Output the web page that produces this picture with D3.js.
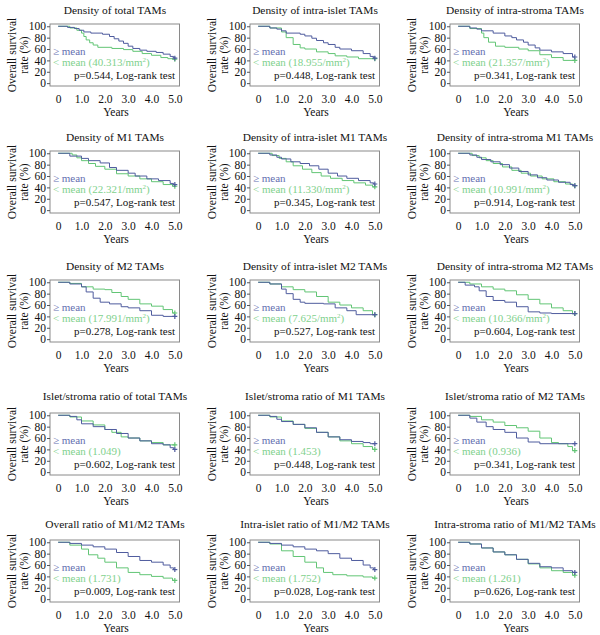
<!DOCTYPE html>
<html><head><meta charset="utf-8">
<script src="https://cdn.jsdelivr.net/npm/d3@7/dist/d3.min.js"></script>
<style>body{margin:0;background:#fff}svg{display:block}text{font-family:"Liberation Serif","Times New Roman",serif}</style>
</head><body>
<svg id="c" width="600" height="635"></svg>
<script>
const titles = [
 "Density of total TAMs","Density of intra-islet TAMs","Density of intra-stroma TAMs",
 "Density of M1 TAMs","Density of intra-islet M1 TAMs","Density of intra-stroma M1 TAMs",
 "Density of M2 TAMs","Density of intra-islet M2 TAMs","Density of intra-stroma M2 TAMs",
 "Islet/stroma ratio of total TAMs","Islet/stroma ratio of M1 TAMs","Islet/stroma ratio of M2 TAMs",
 "Overall ratio of M1/M2 TAMs","Intra-islet ratio of M1/M2 TAMs","Intra-stroma ratio of M1/M2 TAMs"];
const meanValues = ["40.313","18.955","21.357","22.321","11.330","10.991","17.991","7.625","10.366","1.049","1.453","0.936","1.731","1.752","1.261"];
const meanUnits = [1,1,1,1,1,1,1,1,1,0,0,0,0,0,0];
const pValues = ["0.544","0.448","0.341","0.547","0.345","0.914","0.278","0.527","0.604","0.602","0.448","0.341","0.009","0.028","0.626"];
const xTicks = [0,1,2,3,4,5];
const xTickLabels = ["0","1.0","2.0","3.0","4.0","5.0"];
const yTicks = [0,20,40,60,80,100];

// [time (years), survival (%)] step points, >= mean group
const highCurves = [
 [[0,100],[0.4,98],[0.7,96],[0.9,93],[1.1,90],[1.4,88],[1.9,86],[2.2,82],[2.4,78],[2.6,74],[2.8,70],[3.0,65],[3.2,61],[3.5,58],[3.8,56],[4.2,54],[4.5,51],[4.8,47],[4.95,44]],
 [[0,100],[0.5,97],[0.8,95],[1.0,92],[1.2,88],[1.8,86],[2.0,83],[2.3,79],[2.5,75],[2.8,71],[3.0,68],[3.3,63],[3.5,60],[4.0,57],[4.5,52],[4.8,47],[4.95,44]],
 [[0,100],[0.5,97],[0.8,95],[1.0,92],[1.5,88],[2.0,83],[2.3,80],[2.5,76],[2.8,72],[3.0,67],[3.3,62],[3.5,58],[4.0,55],[4.5,52],[4.9,46]],
 [[0,100],[0.5,95],[1.0,91],[1.3,87],[1.8,83],[2.2,75],[2.5,70],[3.0,65],[3.3,60],[3.8,55],[4.3,52],[4.8,47],[4.95,45]],
 [[0,100],[0.5,97],[0.8,93],[1.0,90],[1.4,85],[1.8,82],[2.2,78],[2.6,72],[3.0,65],[3.4,60],[3.8,56],[4.3,52],[4.8,48],[4.95,46]],
 [[0,100],[0.5,97],[0.8,93],[1.0,89],[1.4,85],[1.8,80],[2.2,74],[2.6,68],[3.0,62],[3.4,57],[3.8,53],[4.3,49],[4.8,45],[4.95,43]],
 [[0,100],[0.5,97],[1.0,92],[1.2,83],[1.5,72],[1.8,65],[2.2,62],[2.7,57],[3.0,55],[3.5,50],[4.0,42],[4.5,40]],
 [[0,100],[0.5,97],[1.0,88],[1.2,80],[1.5,70],[1.8,65],[2.0,63],[2.8,62],[3.3,55],[3.8,50],[4.2,43]],
 [[0,100],[0.3,95],[0.7,92],[0.9,85],[1.2,75],[1.5,68],[2.0,65],[2.5,57],[3.0,48],[3.5,46],[4.0,45]],
 [[0,100],[0.5,98],[0.8,92],[1.0,85],[1.5,80],[2.0,75],[2.5,68],[3.0,60],[3.5,55],[4.0,50],[4.5,48],[4.8,43],[4.95,40]],
 [[0,100],[0.5,98],[0.8,93],[1.0,89],[1.5,84],[2.0,78],[2.5,70],[3.0,62],[3.5,57],[4.0,54],[4.5,52],[4.8,50]],
 [[0,100],[0.5,95],[0.8,88],[1.2,80],[1.5,75],[2.0,70],[2.5,60],[3.0,53],[3.5,50]],
 [[0,100],[0.5,98],[1.0,95],[1.5,92],[2.0,88],[2.5,82],[3.0,75],[3.5,68],[4.0,65],[4.5,60],[4.8,55],[4.95,52]],
 [[0,100],[0.5,98],[1.0,95],[1.5,92],[2.0,88],[2.5,85],[3.0,80],[3.5,72],[4.0,68],[4.5,60],[4.8,55],[4.95,52]],
 [[0,100],[0.5,97],[1.0,90],[1.5,83],[2.0,78],[2.5,70],[3.0,63],[3.5,57],[4.0,55],[4.5,50],[4.9,47]]
];
// < mean group
const lowCurves = [
 [[0,100],[0.5,97],[0.8,93],[1.0,88],[1.1,82],[1.2,76],[1.35,71],[1.5,67],[1.7,63],[2.3,61],[2.8,59],[3.2,56],[3.6,52],[4.0,49],[4.4,45],[4.7,43],[4.9,42]],
 [[0,100],[0.5,97],[1.0,90],[1.2,80],[1.5,68],[1.8,62],[2.0,60],[2.5,55],[3.0,52],[3.3,48],[3.8,46],[4.3,43]],
 [[0,100],[0.5,96],[1.0,88],[1.1,80],[1.3,72],[1.6,65],[2.0,63],[2.6,60],[3.0,57],[3.5,50],[4.0,45],[4.5,40]],
 [[0,100],[0.6,97],[0.8,92],[1.0,87],[1.3,82],[1.6,77],[2.0,72],[2.5,64],[3.0,60],[3.5,55],[4.0,50],[4.5,45],[4.9,42]],
 [[0,100],[0.6,96],[0.9,91],[1.2,85],[1.5,78],[1.9,72],[2.3,66],[2.7,60],[3.1,56],[3.6,52],[4.1,48],[4.6,44],[4.9,41]],
 [[0,100],[0.6,96],[0.9,92],[1.2,87],[1.5,82],[1.9,76],[2.3,70],[2.7,65],[3.1,60],[3.6,55],[4.1,50],[4.6,46],[4.9,43]],
 [[0,100],[0.5,98],[1.0,92],[1.5,88],[2.0,87],[2.3,82],[2.7,75],[3.0,70],[3.5,62],[4.0,58],[4.5,52],[4.9,46]],
 [[0,100],[0.5,97],[1.0,92],[1.5,87],[2.0,83],[2.5,75],[3.0,65],[3.5,60],[4.0,55],[4.5,50],[4.9,43]],
 [[0,100],[0.5,97],[1.0,92],[1.5,88],[2.0,85],[2.5,78],[3.0,70],[3.5,62],[4.0,55],[4.5,50],[4.9,45]],
 [[0,100],[0.5,97],[1.0,90],[1.5,83],[2.0,75],[2.3,70],[2.7,62],[3.0,60],[3.5,55],[4.0,52],[4.5,48]],
 [[0,100],[0.5,97],[1.0,90],[1.5,84],[2.0,77],[2.5,70],[3.0,62],[3.5,55],[4.0,50],[4.5,45],[4.9,40]],
 [[0,100],[0.5,98],[1.0,92],[1.5,88],[2.0,82],[2.5,78],[3.0,72],[3.5,60],[4.0,52],[4.3,50],[4.7,45],[4.9,38]],
 [[0,100],[0.5,95],[1.0,88],[1.3,78],[1.7,72],[2.0,65],[2.5,55],[3.0,47],[3.5,43],[4.0,40],[4.5,37],[4.9,33]],
 [[0,100],[0.5,97],[1.0,85],[1.5,75],[2.0,65],[2.5,55],[2.8,47],[3.2,43],[3.8,41],[4.5,39],[4.9,37]],
 [[0,100],[0.5,97],[1.0,90],[1.5,83],[2.0,78],[2.5,70],[3.0,62],[3.5,55],[4.0,50],[4.5,47],[4.9,42]]
];

const BLUE = "#4f5c9e", GREEN = "#62c575", BLUE_T = "#6470b0", GREEN_T = "#7fd18d";
const frameTops = [24,151,280,413,540];
const titleYs = [14,141,270,400,528];
const colX = [0,200,400];
const svg = d3.select("#c");

titles.forEach((t,i)=>{
  const r = Math.floor(i/3), c = i%3;
  const ox = colX[c], top = frameTops[r];
  const x = d3.scaleLinear().domain([-0.35,5.2]).range([ox+50, ox+179.5]);
  const y = d3.scaleLinear().domain([-5,104]).range([top+62, top]);
  const g = svg.append("g");
  g.append("rect").attr("x",x.range()[0]).attr("y",top).attr("width",x.range()[1]-x.range()[0]).attr("height",62)
   .attr("fill","none").attr("stroke","#8a8a8a").attr("stroke-width",1);
  const ya = g.append("g").attr("transform",`translate(${x.range()[0]},0)`)
    .call(d3.axisLeft(y).tickValues(yTicks).tickSize(3).tickPadding(1));
  ya.select(".domain").remove();
  ya.selectAll("line").attr("stroke","#555");
  ya.selectAll("text").attr("font-size",11.5).attr("fill","#111").style("font-family","Liberation Serif");
  const xa = g.append("g").attr("transform",`translate(0,${top+62})`)
    .call(d3.axisBottom(x).tickValues(xTicks).tickFormat((d,k)=>xTickLabels[k]).tickSize(0).tickPadding(9));
  xa.select(".domain").remove();
  xa.selectAll("text").attr("font-size",11.5).attr("fill","#111").style("font-family","Liberation Serif");
  g.append("text").attr("x",ox+115).attr("y",titleYs[r]).attr("text-anchor","middle").attr("font-size",11.4).attr("fill","#111").text(t);
  g.append("text").attr("x",ox+116).attr("y",top+92).attr("text-anchor","middle").attr("font-size",11.5).attr("fill","#111").text("Years");
  const cy = top+31;
  g.append("text").attr("transform",`translate(${ox+16},${cy}) rotate(-90)`).attr("text-anchor","middle").attr("font-size",11.5).attr("fill","#111").text("Overall survival");
  g.append("text").attr("transform",`translate(${ox+28},${cy}) rotate(-90)`).attr("text-anchor","middle").attr("font-size",11.5).attr("fill","#111").text("rate (%)");
  const line = d3.line().x(d=>x(d[0])).y(d=>y(d[1])).curve(d3.curveStepAfter);
  [[lowCurves[i],GREEN],[highCurves[i],BLUE]].forEach(([pts,col])=>{
    const last = pts[pts.length-1];
    const data = pts.concat([[5.0,last[1]]]);
    g.append("path").attr("d",line(data)).attr("fill","none").attr("stroke",col).attr("stroke-width",1);
    const cx = x(5.0), cyy = y(last[1]);
    g.append("path").attr("d",`M${cx-2.5},${cyy}H${cx+2.5}M${cx},${cyy-2.5}V${cyy+2.5}`).attr("stroke",col).attr("stroke-width",1.2);
  });
  g.append("text").attr("x",ox+53).attr("y",top+31).attr("font-size",11).attr("fill",BLUE_T).text("\u2265 mean");
  const lt = g.append("text").attr("x",ox+53).attr("y",top+42).attr("font-size",11).attr("fill",GREEN_T);
  if (meanUnits[i]) {
    lt.append("tspan").text(`< mean (${meanValues[i]}/mm`);
    lt.append("tspan").attr("font-size",7).attr("dy",-4).text("2");
    lt.append("tspan").attr("dy",4).text(")");
  } else lt.text(`< mean (${meanValues[i]})`);
  g.append("text").attr("x",ox+175).attr("y",top+55).attr("text-anchor","end").attr("font-size",11).attr("fill","#111").text(`p=${pValues[i]}, Log-rank test`);
});
</script>
</body></html>
